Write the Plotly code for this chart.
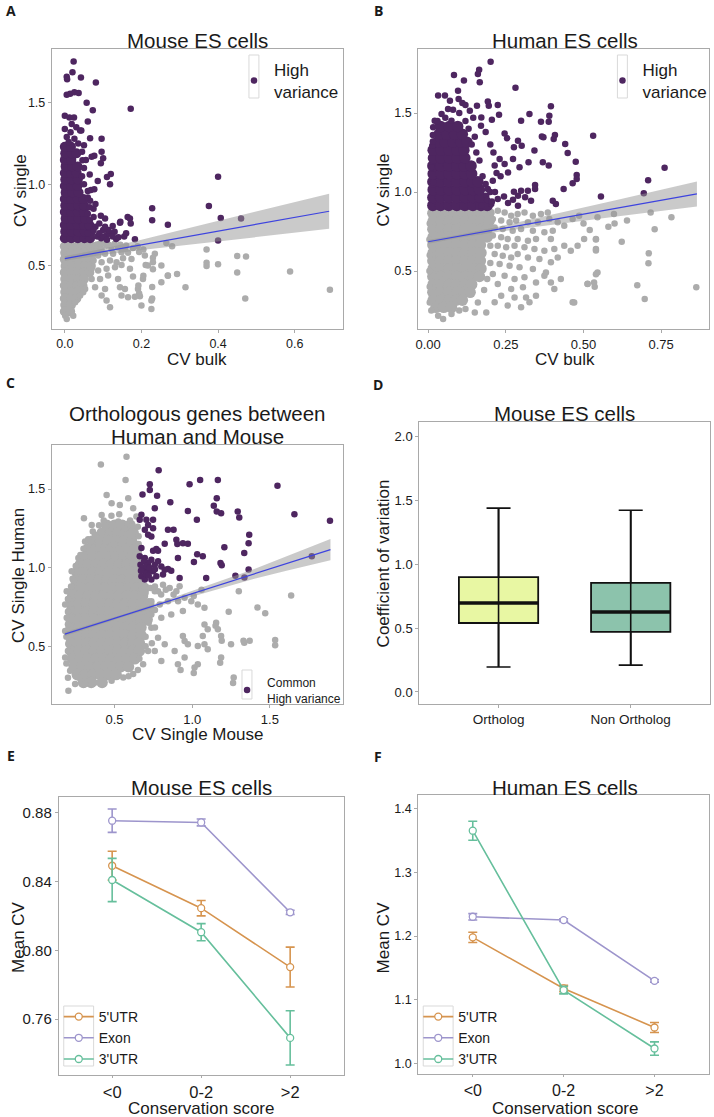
import plotly.graph_objects as go

W, H = 714, 1117
FONT = "Liberation Sans, Arial, sans-serif"
LABEL_FONT = "Open Sans, Liberation Sans, sans-serif"

# ------------------------------------------------------------------ data
# Panel A: Mouse ES cells (CV bulk vs CV single)
mouse_hv_core = [
    (0.67, [0.000, 0.017, 0.034, 0.051, 0.066]),
    (0.71, [0.001, 0.018, 0.035, 0.052, 0.068]),
    (0.75, [0.000, 0.017, 0.034, 0.050, 0.064]),
    (0.79, [0.002, 0.019, 0.036, 0.053]),
    (0.83, [0.000, 0.017, 0.034, 0.050]),
    (0.87, [0.001, 0.018, 0.035, 0.050]),
    (0.91, [0.000, 0.017, 0.034, 0.048]),
    (0.95, [0.002, 0.019, 0.036]),
    (0.99, [0.000, 0.017, 0.033]),
    (1.03, [0.001, 0.018, 0.034]),
    (1.07, [0.000, 0.017, 0.031]),
    (1.11, [0.002, 0.019, 0.033]),
    (1.15, [0.000, 0.017]),
    (1.19, [0.001, 0.018, 0.030]),
    (1.23, [0.000, 0.016]),
]
mouse_hv_pts = [
    (0.023, 1.753), (0.020, 1.688), (0.005, 1.660), (0.006, 1.645), (0.042, 1.655), (0.081, 1.625),
    (0.005, 1.550), (0.014, 1.555), (0.025, 1.565), (0.036, 1.560), (0.057, 1.500), (0.073, 1.455),
    (0.172, 1.463), (0.060, 1.385), (0.043, 1.330), (0.066, 1.283), (0.096, 1.280), (0.096, 1.200),
    (0.070, 1.170), (0.077, 1.175), (0.046, 1.148), (0.100, 1.160), (0.094, 1.130), (0.120, 1.064),
    (0.110, 1.045), (0.118, 1.000), (0.086, 1.020), (0.060, 0.960), (0.068, 0.965), (0.077, 0.970),
    (0.094, 0.808), (0.105, 0.790), (0.144, 0.764), (0.164, 0.800), (0.170, 0.790), (0.172, 0.760),
    (0.228, 0.854), (0.228, 0.780), (0.269, 0.752), (0.120, 0.700), (0.130, 0.710), (0.110, 0.690),
    (0.376, 0.868), (0.400, 1.046), (0.407, 0.793), (0.400, 0.655), (0.460, 0.790), (0.145, 0.770),
    (0.183, 0.664), (0.134, 0.665), (0.140, 0.675), (0.114, 0.720), (0.080, 0.740), (0.090, 0.760),
    (0.075, 0.850), (0.080, 0.880), (0.066, 0.900), (0.085, 0.680), (0.095, 0.670), (0.070, 0.690),
    (0.100, 0.720), (0.000, 1.420), (0.012, 1.410), (0.024, 1.410), (0.018, 1.370), (0.030, 1.350),
    (0.000, 1.340), (0.015, 1.320), (0.040, 1.330), (0.005, 1.290), (0.025, 1.280), (0.010, 1.260),
    (0.035, 1.250), (0.050, 1.240), (0.045, 1.200), (0.055, 1.150), (0.050, 1.100), (0.065, 1.060),
    (0.045, 1.050), (0.050, 1.000), (0.060, 0.920), (0.065, 0.860), (0.060, 0.820), (0.065, 0.780),
    (0.075, 0.800), (0.075, 0.720), (0.060, 0.700), (0.090, 0.700), (0.100, 0.680), (0.110, 0.660),
    (0.125, 0.680), (0.155, 0.680), (0.160, 0.700), (0.105, 0.740), (0.125, 0.745),
]
mouse_core = [
    (0.62, [0.000, 0.017, 0.034, 0.051, 0.068, 0.085]),
    (0.58, [0.001, 0.018, 0.035, 0.052, 0.069, 0.084]),
    (0.54, [0.000, 0.017, 0.034, 0.051, 0.067]),
    (0.50, [0.002, 0.019, 0.036, 0.053, 0.068]),
    (0.46, [0.000, 0.017, 0.034, 0.050, 0.064]),
    (0.42, [0.001, 0.018, 0.035, 0.050]),
    (0.38, [0.000, 0.017, 0.033, 0.046]),
    (0.34, [0.001, 0.018, 0.033]),
    (0.30, [0.000, 0.016, 0.030]),
    (0.26, [0.001, 0.016]),
    (0.22, [0.000, 0.014]),
]
mouse_pts = [
    (0.062, 0.635), (0.079, 0.625), (0.096, 0.604), (0.109, 0.625), (0.122, 0.604), (0.139, 0.615),
    (0.157, 0.604), (0.178, 0.610), (0.070, 0.584), (0.087, 0.563), (0.105, 0.574), (0.126, 0.574),
    (0.148, 0.584), (0.165, 0.580), (0.075, 0.533), (0.096, 0.523), (0.118, 0.533), (0.135, 0.523),
    (0.152, 0.547), (0.174, 0.543), (0.070, 0.482), (0.087, 0.471), (0.109, 0.482), (0.131, 0.492),
    (0.148, 0.506), (0.170, 0.482), (0.070, 0.420), (0.092, 0.420), (0.113, 0.441), (0.139, 0.420),
    (0.178, 0.435), (0.079, 0.369), (0.105, 0.359), (0.144, 0.369), (0.157, 0.359), (0.191, 0.359),
    (0.096, 0.318), (0.109, 0.287), (0.148, 0.318), (0.165, 0.308), (0.226, 0.287), (0.226, 0.236),
    (0.118, 0.247), (0.200, 0.257), (0.204, 0.420), (0.217, 0.502), (0.230, 0.523), (0.252, 0.502),
    (0.209, 0.563), (0.235, 0.574), (0.269, 0.441), (0.252, 0.400), (0.196, 0.314),
    (0.001, 0.195), (0.005, 0.175), (0.014, 0.216), (0.022, 0.195), (0.012, 0.257), (0.027, 0.277),
    (0.040, 0.318), (0.053, 0.359), (0.040, 0.390), (0.048, 0.338),
    (0.092, 0.635), (0.105, 0.638), (0.115, 0.630), (0.130, 0.635), (0.145, 0.630), (0.160, 0.625),
    (0.190, 0.620), (0.205, 0.600),
    (0.692, 0.353), (0.588, 0.465), (0.471, 0.300), (0.473, 0.557), (0.450, 0.560), (0.450, 0.460),
    (0.400, 0.510), (0.370, 0.500), (0.370, 0.520), (0.370, 0.600), (0.315, 0.369), (0.293, 0.450),
    (0.269, 0.440), (0.280, 0.620), (0.265, 0.640), (0.230, 0.550), (0.230, 0.480), (0.228, 0.370),
    (0.228, 0.300), (0.211, 0.506), (0.205, 0.440), (0.194, 0.585), (0.192, 0.380), (0.194, 0.330),
    (0.183, 0.310),
]
mouse_fit_x = [0.0, 0.1, 0.2, 0.3, 0.4, 0.5, 0.6, 0.69]
mouse_fit_y = [0.545, 0.587, 0.629, 0.671, 0.713, 0.755, 0.797, 0.835]
mouse_fit_lo = [0.531, 0.569, 0.597, 0.624, 0.651, 0.677, 0.703, 0.727]
mouse_fit_hi = [0.559, 0.605, 0.661, 0.718, 0.775, 0.833, 0.891, 0.943]

# Panel B: Human ES cells
human_hv_core = [
    (0.915, [0.015, 0.040, 0.066, 0.092, 0.118, 0.144, 0.170, 0.190]),
    (0.965, [0.015, 0.040, 0.066, 0.092, 0.118, 0.144, 0.168]),
    (1.015, [0.016, 0.041, 0.067, 0.093, 0.119, 0.145, 0.165]),
    (1.065, [0.015, 0.040, 0.066, 0.092, 0.118, 0.142, 0.160]),
    (1.115, [0.016, 0.041, 0.067, 0.093, 0.118, 0.140]),
    (1.165, [0.015, 0.040, 0.066, 0.092, 0.116, 0.138]),
    (1.215, [0.017, 0.042, 0.068, 0.094, 0.118]),
    (1.265, [0.016, 0.041, 0.067, 0.093, 0.115]),
    (1.315, [0.030, 0.055, 0.080, 0.105, 0.125]),
    (1.365, [0.035, 0.060, 0.085, 0.110]),
    (1.415, [0.040, 0.068, 0.095]),
]
human_hv_pts = [
    (0.201, 1.825), (0.164, 1.774), (0.160, 1.747), (0.083, 1.740), (0.115, 1.705), (0.166, 1.694),
    (0.281, 1.660), (0.032, 1.610), (0.054, 1.610), (0.070, 1.578), (0.096, 1.641), (0.098, 1.589),
    (0.110, 1.563), (0.192, 1.572), (0.195, 1.546), (0.157, 1.546), (0.224, 1.551), (0.134, 1.515),
    (0.171, 1.472), (0.228, 1.489), (0.205, 1.458), (0.395, 1.542), (0.390, 1.483), (0.388, 1.445),
    (0.363, 1.445), (0.326, 1.494), (0.299, 1.451), (0.246, 1.371), (0.254, 1.340), (0.289, 1.325),
    (0.301, 1.293), (0.276, 1.283), (0.366, 1.352), (0.371, 1.346), (0.408, 1.361), (0.404, 1.335),
    (0.342, 1.262), (0.441, 1.304), (0.449, 1.247), (0.475, 1.192), (0.531, 1.356), (0.369, 1.188),
    (0.388, 1.167), (0.323, 1.188), (0.294, 1.156), (0.273, 1.209), (0.246, 1.177), (0.230, 1.209),
    (0.214, 1.167), (0.257, 1.124), (0.233, 1.099), (0.208, 1.072), (0.478, 1.108), (0.478, 1.082),
    (0.465, 1.055), (0.344, 1.044), (0.344, 1.019), (0.321, 1.008), (0.299, 1.008), (0.331, 0.945),
    (0.312, 0.966), (0.289, 0.977), (0.276, 1.002), (0.273, 0.951), (0.257, 0.930), (0.244, 0.972),
    (0.224, 0.956), (0.203, 0.924), (0.289, 0.913), (0.401, 0.945), (0.411, 0.924), (0.436, 1.019),
    (0.556, 0.972), (0.192, 1.019), (0.187, 0.977), (0.171, 0.913), (0.016, 1.061), (0.011, 1.156),
    (0.013, 1.293), (0.016, 1.409), (0.021, 1.451), (0.043, 1.494), (0.064, 1.525), (0.075, 1.451),
    (0.030, 1.420), (0.761, 1.154), (0.708, 1.074), (0.694, 0.992),
    (0.190, 0.950), (0.200, 1.000), (0.185, 1.050), (0.175, 1.100), (0.165, 1.200), (0.155, 1.250),
    (0.140, 1.300), (0.150, 1.350), (0.130, 1.400), (0.120, 1.450), (0.100, 1.500), (0.080, 1.520),
    (0.055, 1.470), (0.030, 1.450), (0.015, 1.360), (0.015, 1.320), (0.120, 1.550), (0.145, 1.470),
    (0.170, 1.420), (0.185, 1.380), (0.200, 1.300), (0.210, 1.250), (0.220, 1.120), (0.215, 1.000),
    (0.205, 0.940),
]
human_core = [
    (0.865, [0.015, 0.040, 0.066, 0.092, 0.118, 0.144, 0.170, 0.195]),
    (0.815, [0.016, 0.041, 0.067, 0.093, 0.119, 0.145, 0.171, 0.196]),
    (0.765, [0.015, 0.040, 0.066, 0.092, 0.118, 0.144, 0.170, 0.190]),
    (0.715, [0.016, 0.041, 0.067, 0.093, 0.119, 0.145, 0.170, 0.190]),
    (0.665, [0.015, 0.040, 0.066, 0.092, 0.118, 0.144, 0.168]),
    (0.615, [0.016, 0.041, 0.067, 0.093, 0.119, 0.145, 0.170]),
    (0.565, [0.015, 0.040, 0.066, 0.092, 0.118, 0.144, 0.168]),
    (0.515, [0.016, 0.041, 0.067, 0.093, 0.119, 0.145, 0.170]),
    (0.465, [0.015, 0.040, 0.066, 0.092, 0.118, 0.144, 0.165]),
    (0.415, [0.016, 0.041, 0.067, 0.093, 0.119, 0.140]),
    (0.365, [0.015, 0.040, 0.066, 0.092, 0.115, 0.135]),
    (0.315, [0.016, 0.041, 0.067, 0.090, 0.110]),
    (0.270, [0.025, 0.050, 0.075]),
]
human_pts = [
    (0.203, 0.871), (0.224, 0.882), (0.246, 0.871), (0.267, 0.850), (0.288, 0.861), (0.310, 0.871),
    (0.337, 0.850), (0.363, 0.861), (0.385, 0.871), (0.208, 0.829), (0.235, 0.819), (0.262, 0.808),
    (0.283, 0.819), (0.321, 0.808), (0.353, 0.808), (0.390, 0.829), (0.417, 0.808), (0.438, 0.787),
    (0.465, 0.829), (0.486, 0.850), (0.214, 0.776), (0.240, 0.766), (0.272, 0.755), (0.299, 0.766),
    (0.337, 0.755), (0.374, 0.745), (0.401, 0.755), (0.208, 0.724), (0.235, 0.713), (0.256, 0.702),
    (0.288, 0.702), (0.321, 0.692), (0.347, 0.702), (0.395, 0.702), (0.224, 0.660), (0.251, 0.650),
    (0.278, 0.660), (0.310, 0.650), (0.342, 0.639), (0.374, 0.629), (0.406, 0.639), (0.438, 0.660),
    (0.214, 0.608), (0.240, 0.597), (0.267, 0.586), (0.288, 0.608), (0.321, 0.586), (0.358, 0.576),
    (0.395, 0.555), (0.417, 0.586), (0.459, 0.629), (0.230, 0.544), (0.262, 0.534), (0.294, 0.523),
    (0.337, 0.513), (0.379, 0.491), (0.208, 0.481), (0.246, 0.470), (0.278, 0.449), (0.310, 0.460),
    (0.347, 0.428), (0.224, 0.418), (0.267, 0.386), (0.305, 0.397), (0.235, 0.344), (0.278, 0.333),
    (0.315, 0.333), (0.214, 0.302), (0.256, 0.281), (0.299, 0.270), (0.187, 0.238), (0.150, 0.238),
    (0.075, 0.228), (0.032, 0.217), (0.048, 0.196), (0.540, 0.702), (0.540, 0.639), (0.545, 0.491),
    (0.534, 0.428), (0.513, 0.418), (0.465, 0.302), (0.427, 0.449), (0.395, 0.428), (0.374, 0.470),
    (0.406, 0.386), (0.347, 0.344), (0.326, 0.302), (0.502, 0.702), (0.481, 0.660),
    (0.863, 0.397), (0.783, 0.840), (0.729, 0.764), (0.710, 0.612), (0.709, 0.549), (0.697, 0.323),
    (0.673, 0.410), (0.623, 0.685), (0.540, 0.700), (0.540, 0.630), (0.540, 0.480), (0.536, 0.400),
    (0.513, 0.420), (0.470, 0.300), (0.598, 0.860), (0.545, 0.840), (0.716, 0.870), (0.640, 0.820),
    (0.600, 0.800), (0.500, 0.800), (0.520, 0.760), (0.580, 0.780),
    (0.010, 0.250), (0.005, 0.300), (0.005, 0.400), (0.004, 0.500), (0.005, 0.600), (0.004, 0.700),
    (0.005, 0.800), (0.200, 0.660), (0.200, 0.550), (0.190, 0.450), (0.180, 0.380), (0.160, 0.300),
    (0.120, 0.260), (0.100, 0.250),
]
human_fit_x = [0.0, 0.1, 0.2, 0.3, 0.4, 0.5, 0.6, 0.7, 0.8, 0.865]
human_fit_y = [0.685, 0.720, 0.755, 0.790, 0.825, 0.860, 0.895, 0.930, 0.965, 0.988]
human_fit_lo = [0.673, 0.710, 0.741, 0.768, 0.793, 0.818, 0.843, 0.868, 0.893, 0.909]
human_fit_hi = [0.697, 0.730, 0.769, 0.812, 0.857, 0.902, 0.947, 0.992, 1.037, 1.067]

# Panel C: Orthologous genes
ortho_hv_pts = [
    (0.784, 1.620), (0.727, 1.530), (0.727, 1.494), (0.680, 1.466), (0.774, 1.458), (0.759, 1.378),
    (0.859, 1.416), (0.673, 1.336), (0.662, 1.304), (0.705, 1.304), (0.748, 1.304), (0.716, 1.272),
    (0.748, 1.251), (0.695, 1.241), (0.716, 1.209), (0.737, 1.198), (0.844, 1.241), (0.880, 1.241),
    (0.898, 1.177), (0.904, 1.150), (0.940, 1.156), (0.823, 1.152), (0.769, 1.118), (0.748, 1.108),
    (0.780, 1.108), (0.673, 1.125), (0.662, 1.072), (0.695, 1.061), (0.737, 1.051), (0.716, 1.030),
    (0.759, 1.019), (0.780, 1.040), (0.801, 1.008), (0.844, 0.992), (0.865, 0.981), (0.667, 1.019),
    (0.684, 0.987), (0.716, 0.981), (0.748, 0.977), (0.673, 0.945), (0.695, 0.924), (0.737, 0.924),
    (0.769, 0.945), (0.823, 0.987), (0.812, 0.956), (0.919, 0.935), (0.908, 1.061), (0.972, 1.152),
    (0.972, 1.361), (1.030, 1.304), (0.983, 1.530), (1.051, 1.557), (1.165, 1.557), (1.158, 1.441),
    (1.139, 1.394), (1.158, 1.357), (1.186, 1.346), (1.207, 1.129), (1.032, 1.086), (1.068, 1.072),
    (1.011, 1.036), (1.090, 0.935), (1.182, 1.030), (1.190, 1.015), (1.293, 1.357), (1.303, 1.319),
    (1.335, 1.093), (1.367, 1.209), (1.549, 1.521), (1.658, 1.340), (1.887, 1.298), (1.770, 1.072),
    (1.363, 1.155), (1.278, 0.948), (1.336, 0.937), (1.363, 0.988),
    (0.680, 1.000), (0.700, 0.960), (0.720, 0.950), (0.690, 1.040), (0.705, 1.010), (0.725, 1.000),
    (0.670, 0.980), (0.760, 0.990),
]
ortho_core = [
    (1.27, [0.45, 0.50, 0.55, 0.60]),
    (1.22, [0.42, 0.47, 0.52, 0.57, 0.62]),
    (1.17, [0.36, 0.41, 0.46, 0.51, 0.56, 0.61]),
    (1.12, [0.33, 0.38, 0.43, 0.48, 0.53, 0.58, 0.63]),
    (1.07, [0.31, 0.36, 0.41, 0.46, 0.51, 0.56, 0.61, 0.645]),
    (1.02, [0.28, 0.33, 0.38, 0.43, 0.48, 0.53, 0.58, 0.63]),
    (0.97, [0.26, 0.31, 0.36, 0.41, 0.46, 0.51, 0.56, 0.61, 0.655]),
    (0.92, [0.25, 0.30, 0.35, 0.40, 0.45, 0.50, 0.55, 0.60, 0.65]),
    (0.87, [0.24, 0.29, 0.34, 0.39, 0.44, 0.49, 0.54, 0.59, 0.64, 0.69]),
    (0.82, [0.23, 0.28, 0.33, 0.38, 0.43, 0.48, 0.53, 0.58, 0.63, 0.68]),
    (0.77, [0.22, 0.27, 0.32, 0.37, 0.42, 0.47, 0.52, 0.57, 0.62, 0.67, 0.72]),
    (0.72, [0.22, 0.27, 0.32, 0.37, 0.42, 0.47, 0.52, 0.57, 0.62, 0.67, 0.72]),
    (0.67, [0.22, 0.27, 0.32, 0.37, 0.42, 0.47, 0.52, 0.57, 0.62, 0.67, 0.71]),
    (0.62, [0.22, 0.27, 0.32, 0.37, 0.42, 0.47, 0.52, 0.57, 0.62, 0.67]),
    (0.57, [0.22, 0.27, 0.32, 0.37, 0.42, 0.47, 0.52, 0.57, 0.62, 0.67]),
    (0.52, [0.22, 0.27, 0.32, 0.37, 0.42, 0.47, 0.52, 0.57, 0.62, 0.66]),
    (0.47, [0.22, 0.27, 0.32, 0.37, 0.42, 0.47, 0.52, 0.57, 0.62, 0.66]),
    (0.42, [0.23, 0.28, 0.33, 0.38, 0.43, 0.48, 0.53, 0.58, 0.63]),
    (0.37, [0.24, 0.29, 0.34, 0.39, 0.44, 0.49, 0.54, 0.59]),
    (0.32, [0.26, 0.31, 0.36, 0.41, 0.46, 0.51]),
    (0.27, [0.30, 0.35, 0.42]),
]
ortho_pts = [
    (0.577, 1.705), (0.412, 1.656), (0.571, 1.557), (0.449, 1.462), (0.588, 1.441), (0.481, 1.409),
    (0.534, 1.399), (0.620, 1.378), (0.303, 1.314), (0.417, 1.335), (0.353, 1.272), (0.524, 1.293),
    (0.641, 1.325), (0.310, 1.167), (0.374, 1.209), (0.459, 1.230), (0.566, 1.251), (0.395, 1.146),
    (0.502, 1.146), (0.609, 1.167), (0.342, 1.103), (0.267, 1.061), (0.224, 0.977), (0.192, 0.850),
    (0.182, 0.766), (0.192, 0.681), (0.182, 0.597), (0.203, 0.513), (0.182, 0.428), (0.214, 0.344),
    (0.246, 0.260), (0.203, 0.217), (0.310, 0.260), (0.374, 0.270), (0.481, 0.281), (0.556, 0.302),
    (0.620, 0.323), (0.684, 0.386), (0.716, 0.470),
    (0.716, 0.871), (0.759, 0.850), (0.812, 0.892), (0.855, 0.871), (0.898, 0.850), (0.919, 0.882),
    (0.737, 0.787), (0.791, 0.766), (0.844, 0.787), (0.909, 0.787), (0.951, 0.808), (0.737, 0.702),
    (0.801, 0.681), (0.865, 0.702), (0.940, 0.724), (0.994, 0.787), (1.036, 0.766), (1.079, 0.745),
    (1.079, 0.639), (1.100, 0.608), (1.068, 0.565), (1.154, 0.650), (1.165, 0.608), (1.186, 0.565),
    (0.737, 0.618), (0.780, 0.555), (0.823, 0.513), (0.759, 0.470), (0.801, 0.407), (0.887, 0.470),
    (0.908, 0.386), (0.940, 0.565), (0.951, 0.534), (0.972, 0.513), (1.036, 0.502), (0.951, 0.428),
    (1.036, 0.386), (1.079, 0.513), (1.100, 0.481), (1.250, 0.513), (1.186, 0.428), (1.335, 0.523),
    (1.267, 0.302), (1.015, 0.365),
    (1.637, 0.823), (1.534, 0.540), (1.534, 0.506), (1.470, 0.710), (1.420, 0.747), (1.370, 0.535),
    (1.330, 0.535), (1.300, 0.850), (1.263, 0.266), (1.180, 0.395), (1.190, 0.535), (1.150, 0.630),
    (1.235, 0.720), (1.010, 0.330), (0.925, 0.350), (1.060, 0.860), (1.010, 0.820),
    (0.700, 0.840), (0.690, 0.880), (0.730, 0.870), (0.760, 0.880), (0.780, 0.850), (0.800, 0.830),
    (0.830, 0.860), (0.880, 0.830), (0.760, 0.730), (0.700, 0.750), (0.720, 0.650), (0.760, 0.620),
    (0.700, 0.560), (0.740, 0.520), (0.700, 0.500), (0.660, 0.420), (0.650, 0.350), (0.590, 0.310),
    (0.270, 0.300), (0.200, 0.300), (0.190, 0.390), (0.200, 0.470), (0.190, 0.560), (0.200, 0.640),
    (0.200, 0.720), (0.200, 0.800), (0.220, 0.880), (0.230, 0.930), (0.250, 1.010), (0.280, 1.080),
    (0.300, 1.120), (0.330, 1.180), (0.360, 1.230), (0.400, 1.270), (0.430, 1.300), (0.480, 1.330),
    (0.530, 1.340), (0.600, 1.300), (0.650, 1.260), (0.655, 1.200), (0.655, 1.150), (0.655, 1.100),
]
ortho_fit_x = [0.18, 0.4, 0.6, 0.8, 1.0, 1.2, 1.4, 1.6, 1.8, 1.89]
ortho_fit_y = [0.577, 0.646, 0.709, 0.772, 0.835, 0.898, 0.961, 1.024, 1.087, 1.115]
ortho_fit_lo = [0.565, 0.638, 0.701, 0.760, 0.817, 0.876, 0.930, 0.979, 1.027, 1.047]
ortho_fit_hi = [0.589, 0.654, 0.717, 0.784, 0.853, 0.920, 0.992, 1.069, 1.147, 1.183]

# Panel D: box plot
box_groups = ["Ortholog", "Non Ortholog"]
box_lower = [0.195, 0.210]
box_q1 = [0.539, 0.469]
box_median = [0.695, 0.625]
box_q3 = [0.898, 0.852]
box_upper = [1.437, 1.420]

# Panels E/F: mean CV by conservation score
cons_cats = ["<0", "0-2", ">2"]
mouse_utr5 = [0.8493, 0.8246, 0.7903]
mouse_utr5_err = [0.0084, 0.0045, 0.0116]
mouse_exon = [0.8755, 0.8745, 0.8222]
mouse_exon_err = [0.0068, 0.0020, 0.0012]
mouse_utr3 = [0.8410, 0.8106, 0.7491]
mouse_utr3_err = [0.0126, 0.0050, 0.0158]
human_utr5 = [1.1980, 1.1176, 1.0562]
human_utr5_err = [0.0080, 0.0050, 0.0078]
human_exon = [1.2304, 1.2252, 1.1296]
human_exon_err = [0.0050, 0.0020, 0.0020]
human_utr3 = [1.3658, 1.1150, 1.0231]
human_utr3_err = [0.0150, 0.0060, 0.0105]

# ------------------------------------------------------------------ helpers
PURPLE = "#4e2660"
GRAY = "#acacac"
BLUE = "#3d43df"
BAND = "rgba(150,150,150,0.5)"
C5 = "#d6944f"
CEX = "#9d95cc"
C3 = "#66bf9c"
FRAME = "#a9a9a9"
TXT = "#1a1a1a"


def px(x):
    return x / W


def py(y):
    return 1 - y / H


def flat(rows):
    return [(x, y) for y, xs in rows for x in xs]


fig = go.Figure()


def scatter(pts, color, size, ax, name=None, legend=None):
    xs = [p[0] for p in pts]
    ys = [p[1] for p in pts]
    fig.add_trace(go.Scatter(
        x=xs, y=ys, mode="markers", name=name or "",
        marker=dict(color=color, size=size, line=dict(width=0)),
        xaxis="x" + ax, yaxis="y" + ax, hoverinfo="skip",
        showlegend=legend is not None, legend=legend or "legend"))


def fit(xv, yv, lo, hi, ax):
    fig.add_trace(go.Scatter(x=xv, y=hi, mode="lines", line=dict(width=0),
                             xaxis="x" + ax, yaxis="y" + ax, showlegend=False, hoverinfo="skip"))
    fig.add_trace(go.Scatter(x=xv, y=lo, mode="lines", line=dict(width=0), fill="tonexty",
                             fillcolor=BAND, xaxis="x" + ax, yaxis="y" + ax,
                             showlegend=False, hoverinfo="skip"))
    fig.add_trace(go.Scatter(x=xv, y=yv, mode="lines", line=dict(color=BLUE, width=1.2),
                             xaxis="x" + ax, yaxis="y" + ax, showlegend=False, hoverinfo="skip"))


PT = 6.5

# Panel A (axis "")
scatter(flat(mouse_core), GRAY, 10, "")
scatter(mouse_pts, GRAY, PT, "")
scatter(flat(mouse_hv_core), PURPLE, 10, "")
scatter(mouse_hv_pts, PURPLE, PT, "", name="High<br>variance", legend="legend")
fit(mouse_fit_x, mouse_fit_y, mouse_fit_lo, mouse_fit_hi, "")

# Panel B
scatter(flat(human_core), GRAY, 11.5, "2")
scatter(human_pts, GRAY, PT, "2")
scatter(flat(human_hv_core), PURPLE, 11.5, "2")
scatter(human_hv_pts, PURPLE, PT, "2", name="High<br>variance", legend="legend2")
fit(human_fit_x, human_fit_y, human_fit_lo, human_fit_hi, "2")

# Panel C
scatter(flat(ortho_core), GRAY, 11.5, "3")
scatter(ortho_pts, GRAY, PT, "3")
scatter(ortho_hv_pts, PURPLE, PT, "3", name="Common<br>High variance", legend="legend3")
fit(ortho_fit_x, ortho_fit_y, ortho_fit_lo, ortho_fit_hi, "3")

# Panel D
box_fill = ["#e8f7a3", "#8cc3ac"]
BOX_W = 0.6
for i, g in enumerate(box_groups):
    fig.add_trace(go.Scatter(
        x=[i], y=[box_median[i]], mode="markers", marker=dict(size=1, color="rgba(0,0,0,0)"),
        error_y=dict(type="data", symmetric=False, array=[box_upper[i] - box_median[i]],
                     arrayminus=[box_median[i] - box_lower[i]], width=12, thickness=1.6,
                     color="#111111"),
        xaxis="x4", yaxis="y4", showlegend=False, hoverinfo="skip"))
    fig.add_trace(go.Box(
        x=[i], q1=[box_q1[i]], median=[box_median[i]], q3=[box_q3[i]],
        lowerfence=[box_lower[i]], upperfence=[box_upper[i]], name=g, width=BOX_W,
        fillcolor=box_fill[i], line=dict(color="#111111", width=1.8), boxpoints=False,
        whiskerwidth=0, xaxis="x4", yaxis="y4", showlegend=False, hoverinfo="skip"))
    fig.add_trace(go.Scatter(
        x=[i - BOX_W / 2, i + BOX_W / 2], y=[box_median[i], box_median[i]], mode="lines",
        line=dict(color="#111111", width=3.4), xaxis="x4", yaxis="y4",
        showlegend=False, hoverinfo="skip"))


def series(vals, errs, color, name, ax, legend):
    fig.add_trace(go.Scatter(
        x=cons_cats, y=vals, name=name, mode="lines+markers",
        line=dict(color=color, width=1.6),
        marker=dict(size=7, color="white", line=dict(color=color, width=1.3)),
        error_y=dict(type="data", array=errs, color=color, thickness=1.6, width=4.5),
        xaxis="x" + ax, yaxis="y" + ax, legend=legend, hoverinfo="skip"))


series(mouse_utr5, mouse_utr5_err, C5, "5'UTR", "5", "legend4")
series(mouse_exon, mouse_exon_err, CEX, "Exon", "5", "legend4")
series(mouse_utr3, mouse_utr3_err, C3, "3'UTR", "5", "legend4")
series(human_utr5, human_utr5_err, C5, "5'UTR", "6", "legend5")
series(human_exon, human_exon_err, CEX, "Exon", "6", "legend5")
series(human_utr3, human_utr3_err, C3, "3'UTR", "6", "legend5")

# ------------------------------------------------------------------ layout


def axis(dom, ax_anchor, rng, horizontal, tick_size=12.5, **kw):
    lo, hi = dom
    d = dict(
        domain=[px(lo), px(hi)] if horizontal else [py(hi), py(lo)],
        anchor=ax_anchor, range=rng, showline=True, mirror=True, linecolor=FRAME,
        linewidth=1, ticks="outside", ticklen=3, tickcolor=FRAME, tickwidth=1,
        showgrid=False, zeroline=False,
        tickfont=dict(family=FONT, size=tick_size, color=TXT))
    d.update(kw)
    return d


layout = dict(
    width=W, height=H, margin=dict(l=0, r=0, t=0, b=0),
    paper_bgcolor="white", plot_bgcolor="white",
    font=dict(family=FONT, color=TXT),
    xaxis=axis((49, 341), "y", [-0.034, 0.725], True, tickvals=[0, 0.2, 0.4, 0.6], tickformat=".1f"),
    yaxis=axis((49, 329), "x", [0.113, 1.83], False, tickvals=[0.5, 1.0, 1.5], tickformat=".1f"),
    xaxis2=axis((417, 709), "y2", [-0.032, 0.904], True, tick_size=13,
                tickvals=[0, 0.25, 0.5, 0.75], tickformat=".2f"),
    yaxis2=axis((49, 329), "x2", [0.133, 1.905], False, tickvals=[0.5, 1.0, 1.5], tickformat=".1f"),
    xaxis3=axis((49, 341), "y3", [0.096, 1.968], True, tick_size=13,
                tickvals=[0.5, 1.0, 1.5], tickformat=".1f"),
    yaxis3=axis((445, 704), "x3", [0.133, 1.78], False, tickvals=[0.5, 1.0, 1.5], tickformat=".1f"),
    xaxis4=axis((418, 710), "y4", [-0.6, 1.6], True, tick_size=13.5,
                tickvals=[0, 1], ticktext=box_groups),
    yaxis4=axis((422, 704), "x4", [-0.094, 2.11], False, tick_size=13,
                tickvals=[0, 0.5, 1.0, 1.5, 2.0], tickformat=".1f"),
    xaxis5=axis((56, 342), "y5", [-0.6, 2.6], True, tick_size=16.5, type="category", ticklen=2),
    yaxis5=axis((797, 1075), "x5", [0.7275, 0.8893], False, tick_size=15,
                tickvals=[0.76, 0.80, 0.84, 0.88], tickformat=".2f"),
    xaxis6=axis((417, 709), "y6", [-0.6, 2.6], True, tick_size=16, type="category", ticklen=2),
    yaxis6=axis((795, 1074), "x6", [0.983, 1.422], False, tick_size=12.5,
                tickvals=[1.0, 1.1, 1.2, 1.3, 1.4], tickformat=".1f"),
)

leg_common = dict(xanchor="left", yanchor="top", bgcolor="rgba(0,0,0,0)", borderwidth=0,
                  tracegroupgap=0, itemclick=False, itemdoubleclick=False)
layout["legend"] = dict(x=px(232), y=py(52), font=dict(family=FONT, size=17, color=TXT), **leg_common)
layout["legend2"] = dict(x=px(602), y=py(52), font=dict(family=FONT, size=17, color=TXT), **leg_common)
layout["legend3"] = dict(x=px(225), y=py(668), font=dict(family=FONT, size=12, color=TXT), **leg_common)
layout["legend4"] = dict(x=px(56), y=py(1001), font=dict(family=FONT, size=14, color=TXT), **leg_common)
layout["legend5"] = dict(x=px(417), y=py(1001), font=dict(family=FONT, size=14, color=TXT), **leg_common)

fig.update_layout(**layout)

# ------------------------------------------------------------------ text
ann = []


def text(t, x, y, size, angle=0, bold=False, family=FONT):
    ann.append(dict(text=("<b>%s</b>" % t) if bold else t, x=px(x), y=py(y),
                    xref="paper", yref="paper", xanchor="center", yanchor="middle",
                    showarrow=False, textangle=angle,
                    font=dict(family=family, size=size, color=TXT)))


# panel letters
for lab, x, y in [("A", 8, 10), ("B", 377, 10), ("C", 8, 382),
                  ("D", 377, 385), ("E", 8, 755), ("F", 377, 756)]:
    text(lab, x, y, 14, bold=True, family=LABEL_FONT)

# titles
text("Mouse ES cells", 195, 40, 20.5)
text("Human ES cells", 564, 40, 20.5)
text("Orthologous genes between", 195, 413, 20.5)
text("Human and Mouse", 195, 436, 20.5)
text("Mouse ES cells", 564, 413, 20.5)
text("Mouse ES cells", 199, 787, 20.5)
text("Human ES cells", 564, 787, 20.5)

# axis titles
text("CV single", 17, 190, 17, angle=-90)
text("CV bulk", 195, 359, 17)
text("CV single", 382, 190, 17, angle=-90)
text("CV bulk", 564, 359, 17)
text("CV Single Human", 15, 575, 17, angle=-90)
text("CV Single Mouse", 195, 734, 17)
text("Coefficient of variation", 382, 563, 17, angle=-90)
text("Mean CV", 15, 937, 17, angle=-90)
text("Conservation score", 199, 1108, 17)
text("Mean CV", 382, 937, 17, angle=-90)
text("Conservation score", 564, 1108, 17)

fig.update_layout(annotations=ann)

# legend key boxes
shapes = []
for x0, y0, x1, y1 in [(247, 55, 257, 98), (617, 55, 627, 98), (240, 670, 250, 699),
                       (61, 1006, 91, 1066), (422, 1006, 452, 1066)]:
    shapes.append(dict(type="rect", xref="paper", yref="paper", x0=px(x0), x1=px(x1),
                       y0=py(y1), y1=py(y0), line=dict(color="#d9d9d9", width=1),
                       fillcolor="rgba(0,0,0,0)", layer="below"))
fig.update_layout(shapes=shapes)

fig.write_html("out.html", config={"displayModeBar": False},
               post_script="document.body.style.margin='0';document.body.style.padding='0';"
                           "document.body.style.overflow='hidden';")
